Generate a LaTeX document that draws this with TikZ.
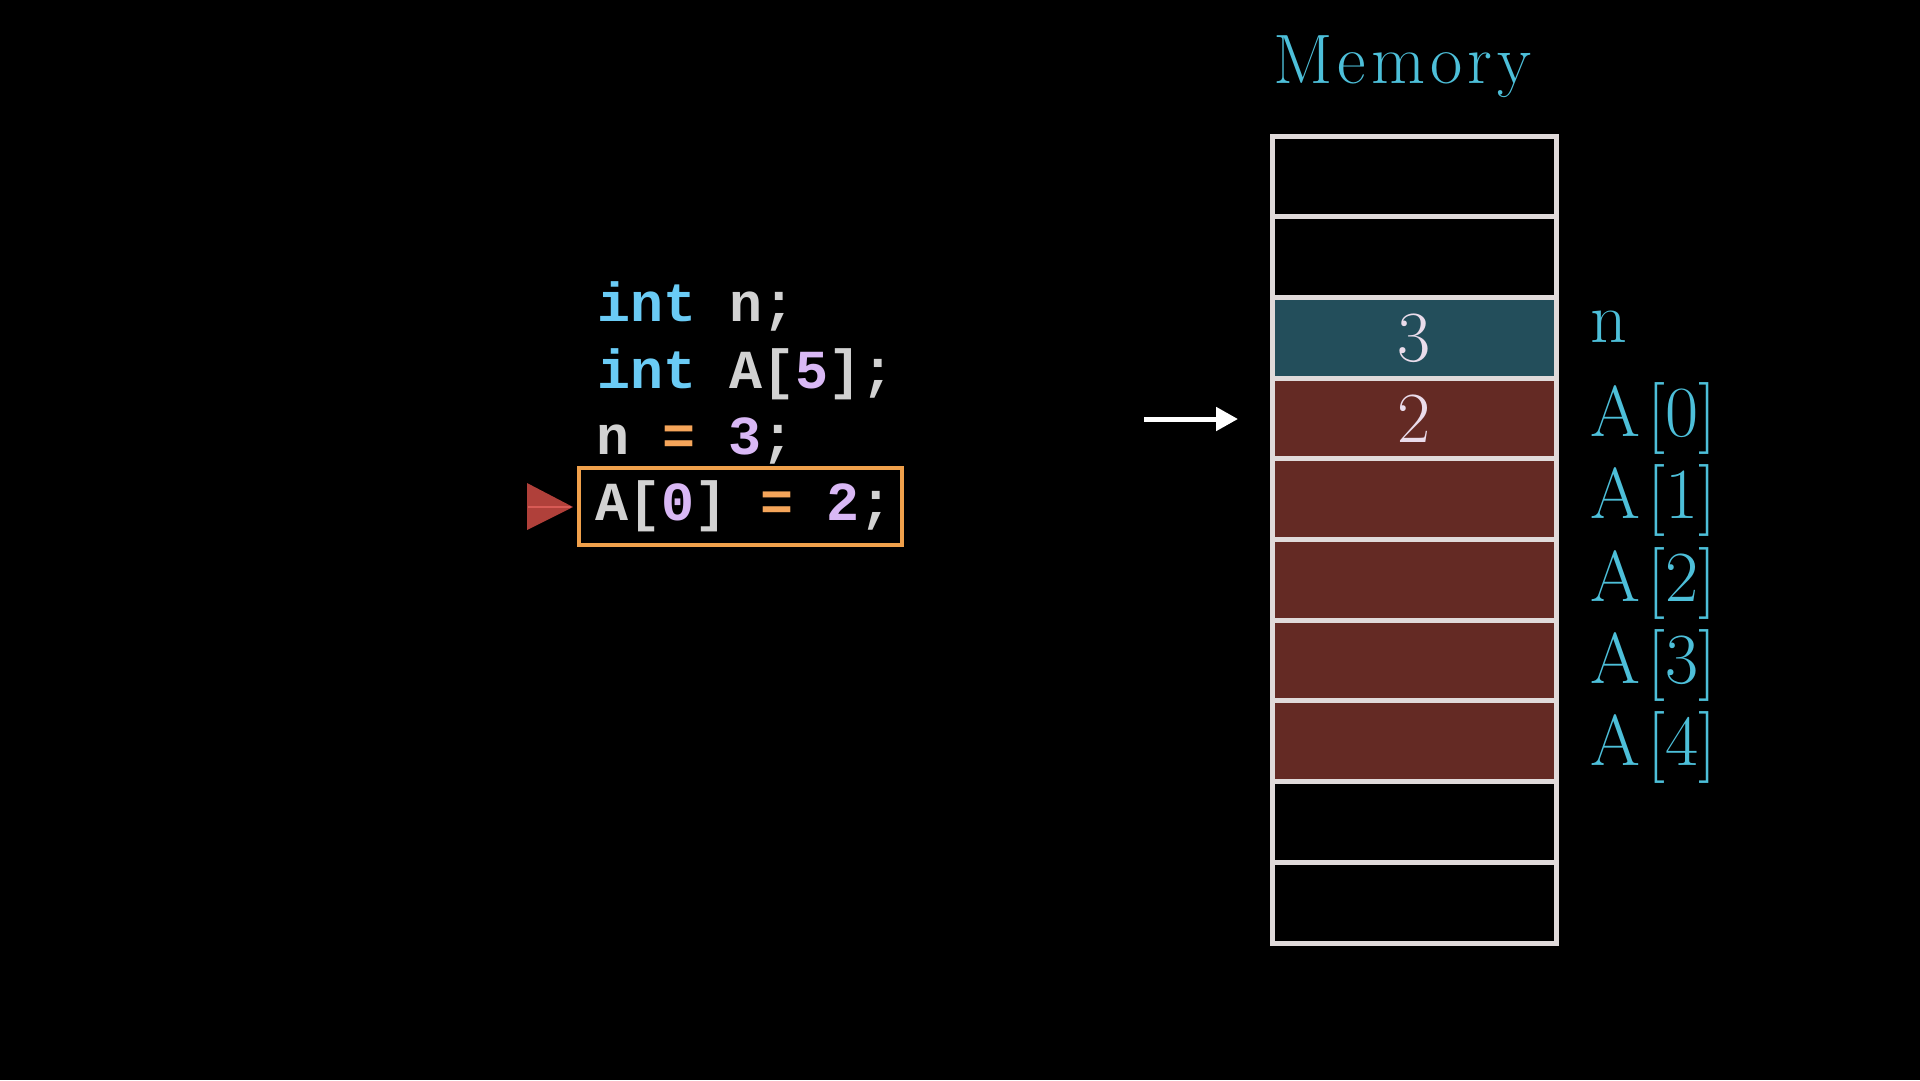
\documentclass[tikz,border=0pt]{standalone}
\usepackage{fontspec}
\usetikzlibrary{arrows.meta}
\newfontfamily\codefont[BoldFont={Liberation Mono Bold}]{Liberation Mono}
\definecolor{cyanlab}{HTML}{4DBFD9}
\definecolor{tealcell}{HTML}{234E5B}
\definecolor{redcell}{HTML}{642A24}
\definecolor{cellline}{HTML}{E0DADA}
\definecolor{celltext}{HTML}{EADCEB}
\definecolor{kw}{HTML}{6ACBF5}
\definecolor{idf}{HTML}{D2D2D2}
\definecolor{num}{HTML}{D9B8F5}
\definecolor{op}{HTML}{F5A55A}
\definecolor{boxor}{HTML}{F0A04B}
\definecolor{tri}{HTML}{B0403A}
\definecolor{trimid}{HTML}{D85A55}
\newcommand{\arrlab}[1]{A\kern7pt[#1]}
\tikzset{
  cell/.style={draw=cellline, line width=5pt, minimum width=284pt, minimum height=80.7pt, inner sep=0pt, outer sep=0pt},
  memlab/.style={anchor=base west, inner sep=0pt, text=cyanlab, font=\fontsize{72}{72}\selectfont},
  cellnum/.style={anchor=base, inner sep=0pt, text=celltext, font=\fontsize{72}{72}\selectfont},
  code/.style={anchor=base west, inner sep=0pt, font=\codefont\bfseries\fontsize{55}{55}\selectfont},
}
\begin{document}
\begin{tikzpicture}[x=1pt,y=-1pt]
\fill[black] (0,0) rectangle (1920,1080);
\useasboundingbox (0,0) rectangle (1920,1080);

% title
\node[memlab, font=\fontsize{70}{70}\selectfont] (title) at (1273,83) {M\kern5pt e\kern5pt m\kern5pt o\kern5pt r\kern5pt y};

% memory cells
\foreach \i/\f in {0/black,1/black,2/tealcell,3/redcell,4/redcell,5/redcell,6/redcell,7/redcell,8/black,9/black}{
  \node[cell, fill=\f] (c\i) at (1414,{136+(\i+0.5)*80.7}) {};
}
\foreach \i in {0,...,9}{
  \draw[cellline, line width=5pt] (c\i.north west) rectangle (c\i.south east);
}

% cell values
\node[cellnum] (v3) at (1414,361) {3};
\node[cellnum] (v2) at (1414,442) {2};

% labels
\node[memlab] (ln) at (1590,342) {n};
\node[memlab] (l0) at (1590,436) {\arrlab{0}};
\node[memlab] (l1) at (1590,518) {\arrlab{1}};
\node[memlab] (l2) at (1590,601) {\arrlab{2}};
\node[memlab] (l3) at (1590,683) {\arrlab{3}};
\node[memlab] (l4) at (1590,765) {\arrlab{4}};

% pointer arrow
\coordinate (ps) at (1144,419);
\coordinate (pe) at (1238,419);
\draw[white, line width=5pt, -{Triangle[length=22pt,width=23pt]}] (ps) -- (pe);

% code
\node[code] (k1) at (597,321) {{\color{kw}int} {\color{idf}n;}};
\node[code] (k2) at (597,388) {{\color{kw}int} {\color{idf}A[}{\color{num}5}{\color{idf}];}};
\node[code] (k3) at (596,454) {{\color{idf}n} {\color{op}=} {\color{num}3}{\color{idf};}};
\node[code] (k4) at (595,520) {{\color{idf}A[}{\color{num}0}{\color{idf}]} {\color{op}=} {\color{num}2}{\color{idf};}};

% highlight box
\node[draw=boxor, line width=4pt, inner sep=0pt, outer sep=0pt, minimum width=323pt, minimum height=77pt] (hl) at (740.5,506.5) {};

% current-line marker
\fill[tri] (527,483) -- (573,507) -- (527,530) -- cycle;
\draw[trimid, line width=2pt] (528,507) -- (571,507);
\end{tikzpicture}
\end{document}
